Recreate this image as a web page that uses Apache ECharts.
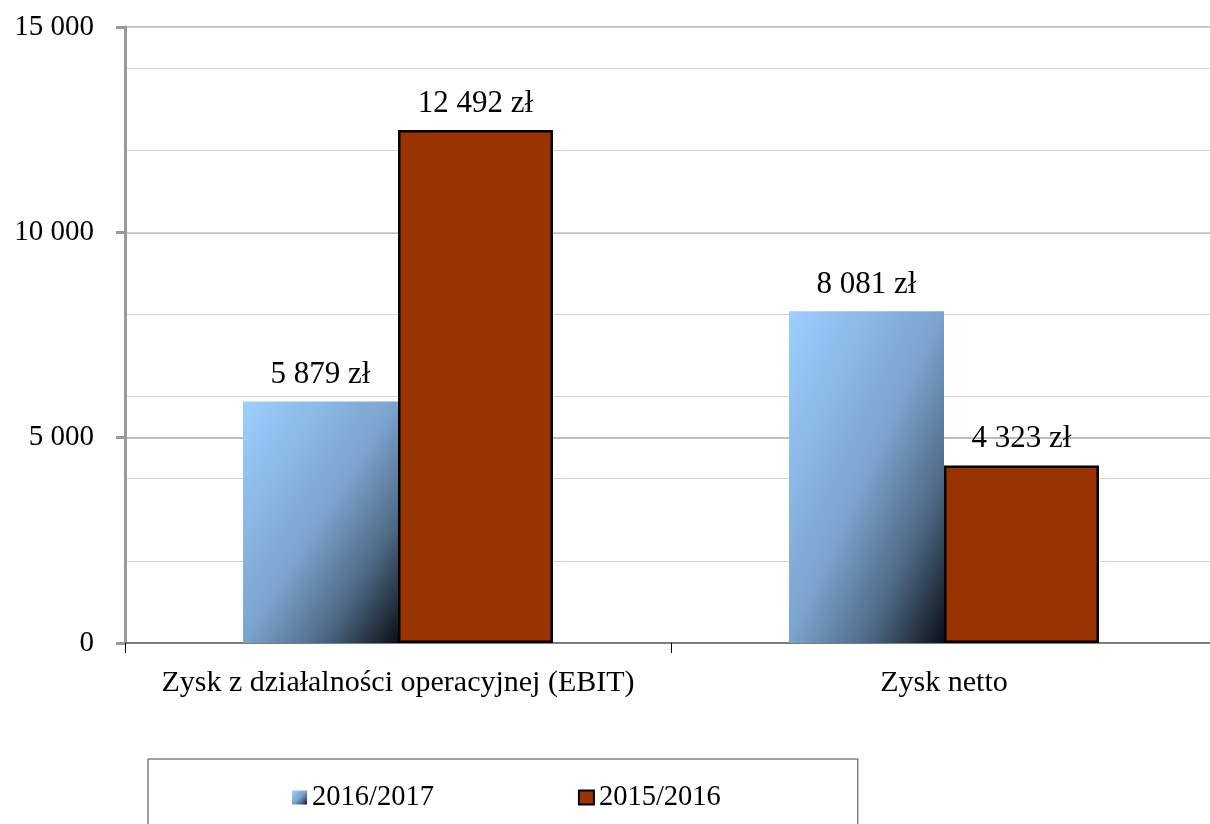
<!DOCTYPE html>
<html>
<head>
<meta charset="utf-8">
<script src="https://cdn.jsdelivr.net/npm/echarts@6/dist/echarts.min.js"></script>
<style>
  html, body { margin: 0; padding: 0; background: #fff; overflow: hidden; }
  #chart { width: 1217px; height: 824px; }
</style>
</head>
<body>
<div id="chart"></div>
<script>
var categories = ['Zysk z działalności operacyjnej (EBIT)', 'Zysk netto'];
var seriesNames = ['2016/2017', '2015/2016'];
var values2017 = [5879, 8081];
var values2016 = [12492, 4323];

function fmt(v) {
    return String(v).replace(/\B(?=(\d{3})+(?!\d))/g, ' ');
}

var font = 'Liberation Serif';
var barW = 155;
var chart = echarts.init(document.getElementById('chart'));

var blueStops = [
    { offset: 0, color: '#9dcfff' },
    { offset: 0.5, color: '#7ba3cd' },
    { offset: 0.75, color: '#4e6985' },
    { offset: 1, color: '#0a0f16' }
];

// gradient with isolines along the bar's anti-diagonal (like office charts)
function blueGrad(h) {
    var w = barW;
    var d = h * h + w * w;
    return new echarts.graphic.LinearGradient(0, 0, 2 * h * h / d, 2 * w * w / d, blueStops);
}

var labelOpt = {
    show: true, position: 'top', distance: 11,
    fontFamily: font, fontSize: 31, color: '#000',
    formatter: function (p) { return fmt(p.value) + ' zł'; }
};

var option = {
    animation: false,
    textStyle: { fontFamily: font },
    grid: { left: 125, top: 27, bottom: 181, right: 0, containLabel: false },
    legend: {
        data: seriesNames,
        left: 148,
        top: 759,
        padding: [24, 137, 40, 144],
        borderColor: '#404040',
        borderWidth: 1,
        itemWidth: 15,
        itemHeight: 14,
        itemGap: 144,
        icon: 'rect',
        textStyle: { fontFamily: font, fontSize: 28.5, color: '#000' }
    },
    xAxis: {
        type: 'category',
        data: categories,
        axisLine: { lineStyle: { color: '#606060', width: 1.5 } },
        axisTick: { show: true, interval: 0, length: 10, lineStyle: { color: '#000', width: 1 } },
        axisLabel: { interval: 0, fontFamily: font, fontSize: 30, color: '#000', margin: 25 }
    },
    yAxis: [{
        type: 'value',
        min: 0,
        max: 15000,
        interval: 5000,
        axisLine: { show: true, lineStyle: { color: '#9a9a9a', width: 3 } },
        axisTick: { show: true, length: 9, lineStyle: { color: '#9a9a9a', width: 3 } },
        axisLabel: {
            fontFamily: font, fontSize: 29, color: '#000', margin: 31,
            formatter: function (v) { return fmt(v); }
        },
        splitLine: { lineStyle: { color: '#bcbcbc', width: 2 } }
    }, {
        type: 'value',
        min: 0,
        max: 15000,
        interval: 2000,
        position: 'left',
        axisLine: { show: false },
        axisTick: { show: false },
        axisLabel: { show: false },
        splitLine: { lineStyle: { color: '#d4d4d4', width: 1 } }
    }],
    series: [{
        name: seriesNames[0],
        type: 'bar',
        data: values2017,
        barWidth: barW,
        barGap: '0%',
        itemStyle: { color: blueGrad(barW) },
        label: labelOpt
    }, {
        name: seriesNames[1],
        type: 'bar',
        data: values2016,
        barWidth: barW,
        barGap: '0%',
        itemStyle: { color: '#993300', borderColor: '#000', borderWidth: 2.5 },
        label: labelOpt
    }]
};

chart.setOption(option);

// per-bar gradient using the bar height in pixels from the axis scale
var y0 = chart.convertToPixel({ yAxisIndex: 0 }, 0);
chart.setOption({
    series: [{
        data: values2017.map(function (v) {
            var h = y0 - chart.convertToPixel({ yAxisIndex: 0 }, v);
            return { value: v, itemStyle: { color: blueGrad(h) } };
        })
    }]
});
</script>
</body>
</html>
